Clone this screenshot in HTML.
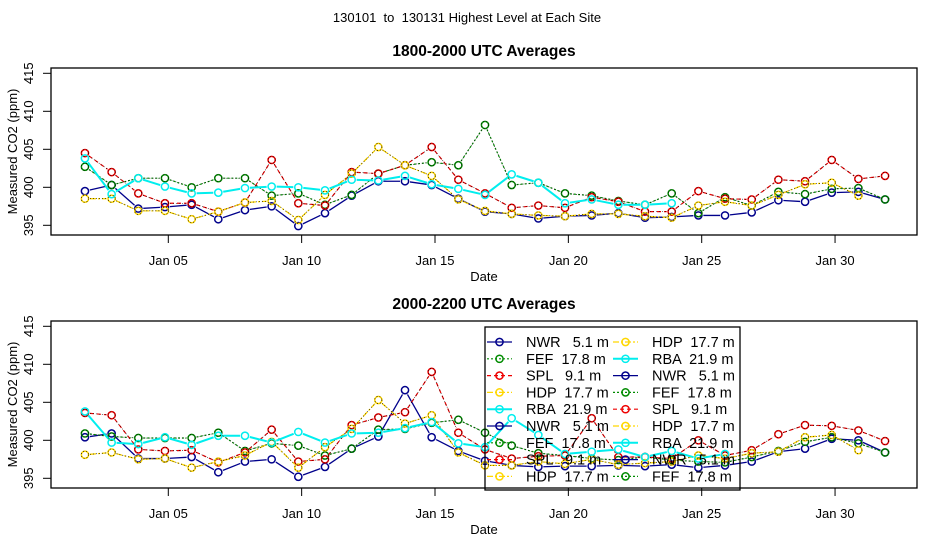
<!DOCTYPE html>
<html><head><meta charset="utf-8"><style>
html,body{margin:0;padding:0;background:#fff;}
svg{display:block;font-family:"Liberation Sans",Arial,sans-serif;}
</style></head><body>
<svg id="chart" width="936" height="540" viewBox="0 0 936 540" xmlns="http://www.w3.org/2000/svg">
<text x="467" y="22" text-anchor="middle" font-size="13" fill="#000" style="white-space:pre">130101  to  130131 Highest Level at Each Site</text>
<g id="p1"></g>
<g id="p2"></g>
<g id="legend"></g>
</svg>
<script>
const days = [2,3,4,5,6,7,8,9,10,11,12,13,14,15,16,17,18,19,20,21,22,23,24,25,26,27,28,29,30,31,32];
const seriesNames = ["NWR","FEF","SPL","HDP","RBA"];
const yTicks = [395,400,405,410,415];
const xTickDays = [5,10,15,20,25,30];
const xTickLabels = ["Jan 05","Jan 10","Jan 15","Jan 20","Jan 25","Jan 30"];
const p1NWR = [399.5,400.3,397.2,397.4,397.7,395.8,397.0,397.5,394.9,396.6,398.9,400.8,400.8,400.3,398.5,396.8,396.5,395.9,396.2,396.3,396.6,396.0,396.1,396.3,396.3,396.7,398.3,398.1,399.3,399.4,398.4];
const p1FEF = [402.7,400.3,401.2,401.2,400.0,401.2,401.2,398.9,399.2,397.7,399.0,401.8,402.9,403.3,402.9,408.2,400.3,400.6,399.2,398.9,398.2,397.7,399.2,396.6,398.7,397.6,399.4,399.1,399.8,399.9,398.4];
const p1SPL = [404.5,402.0,399.2,397.9,397.9,396.8,398.0,403.6,397.9,397.6,402.0,401.8,402.9,405.3,401.0,399.2,397.3,397.6,397.3,398.7,398.1,396.8,396.8,399.5,398.5,398.4,401.0,400.8,403.6,401.1,401.5];
const p1HDP = [398.5,398.5,396.9,396.9,395.8,396.8,398.0,398.2,395.7,399.0,401.8,405.3,402.9,401.5,398.4,396.9,396.5,396.3,396.2,396.5,396.5,396.2,396.0,397.6,398.1,397.6,399.0,400.4,400.6,398.9,null];
const p1RBA = [403.8,399.1,401.2,400.1,399.2,399.3,399.9,400.1,400.0,399.6,401.0,400.9,401.5,400.4,399.8,399.0,401.7,400.6,397.9,398.4,397.7,397.7,397.9,null,null,null,null,null,null,null,null];
const p2NWR = [400.4,400.9,397.6,397.6,397.8,395.8,397.2,397.5,395.2,396.5,398.9,400.5,406.6,400.4,398.6,397.3,396.7,396.5,396.6,396.6,396.7,396.6,396.8,396.4,396.7,397.2,398.5,398.9,400.2,400.0,398.4];
const p2FEF = [400.9,400.5,400.3,400.3,400.3,401.0,398.6,399.6,399.3,398.0,398.9,401.4,401.5,402.3,402.7,401.0,399.3,398.3,398.0,397.6,397.4,397.8,397.4,397.2,397.1,397.8,398.6,399.8,400.4,399.6,398.4];
const p2SPL = [403.6,403.3,398.8,398.6,398.7,397.1,398.4,401.4,397.2,397.5,402.0,403.0,403.7,409.0,401.0,398.8,397.6,397.9,398.0,402.9,397.8,397.8,397.6,400.0,398.0,398.7,400.8,402.0,401.9,401.3,399.9];
const p2HDP = [398.1,398.4,397.5,397.6,396.4,397.2,398.0,399.8,396.4,399.1,401.5,405.3,402.2,403.3,398.4,396.7,396.7,397.2,396.9,397.5,396.8,397.0,397.2,398.0,397.6,398.3,398.5,400.4,400.7,398.7,null];
const p2RBA = [403.8,399.7,399.5,400.4,399.4,400.6,400.6,399.7,401.1,399.7,400.9,401.0,401.6,402.4,399.6,399.1,402.9,400.7,398.2,398.5,398.8,397.8,398.6,397.6,398.2,null,null,null,null,null,null];

const colors = {NWR:"#00008b",FEF:"#008b00",SPL:"#ee0000",HDP:"#ffd700",RBA:"#00eeee"};
const dashes = {NWR:"none",FEF:"2 2",SPL:"4 3",HDP:"6 2 2 2",RBA:"none"};
const widths = {NWR:1.3,FEF:1.2,SPL:1.2,HDP:1.3,RBA:2};
const NS="http://www.w3.org/2000/svg";
function mk(tag,attrs,parent){const e=document.createElementNS(NS,tag);for(const k in attrs)e.setAttribute(k,attrs[k]);parent.appendChild(e);return e;}
const L=51,R=917;
function xScale(d){return 435+(d-0.125-15)*26.67;}
function drawPanel(g,top,title,data){
  const bottom=top+167;
  const base=bottom-9.7;
  const yScale=v=>base-(v-395)*7.6;
  const t=mk('text',{x:484,y:top-12,'text-anchor':'middle','font-size':'15.5','font-weight':'bold'},g);
  t.textContent=title;
  
  
  const box=mk('rect',{x:L,y:top,width:R-L,height:bottom-top,fill:'none',stroke:'#000','stroke-width':1.3},g);
  
  
  yTicks.forEach(v=>{
    const y=yScale(v);
    mk('line',{x1:L-8,x2:L,y1:y,y2:y,stroke:'#000'},g);
    const tx=mk('text',{x:0,y:0,'text-anchor':'middle','font-size':'13',transform:`translate(33,${y}) rotate(-90)`},g);
    tx.textContent=v;
    
    
  });
  const yt=mk('text',{x:0,y:0,'text-anchor':'middle','font-size':'13',transform:`translate(17,${(top+bottom)/2}) rotate(-90)`},g);
  yt.textContent='Measured CO2 (ppm)';
  
  
  xTickDays.forEach((d,i)=>{
    const x=435+(d-15)*26.67;
    mk('line',{x1:x,x2:x,y1:bottom,y2:bottom+8,stroke:'#000'},g);
    const tx=mk('text',{x:x,y:bottom+30,'text-anchor':'middle','font-size':'13'},g);
    tx.textContent=xTickLabels[i];
    
    
  });
  const xt=mk('text',{x:484,y:bottom+46,'text-anchor':'middle','font-size':'13'},g);
  xt.textContent='Date';
  
  
  seriesNames.forEach((s,si)=>{
    const vals=data[si];
    const sg=mk('g',{},g);
    
    
    for(let i=0;i<days.length-1;i++){
      if(vals[i]==null||vals[i+1]==null)continue;
      const x1=xScale(days[i]),y1=yScale(vals[i]),x2=xScale(days[i+1]),y2=yScale(vals[i+1]);
      const dx=x2-x1,dy=y2-y1,len=Math.hypot(dx,dy);
      if(len<11)continue;
      const ux=dx/len,uy=dy/len;
      mk('line',{x1:x1+ux*5,y1:y1+uy*5,x2:x2-ux*5,y2:y2-uy*5,stroke:colors[s],'stroke-width':widths[s],'stroke-dasharray':dashes[s]},sg);
      if(s!=='NWR'&&s!=='RBA')mk('line',{x1:x1+ux*5,y1:y1+uy*5,x2:x2-ux*5,y2:y2-uy*5,stroke:'#000','stroke-width':0.6,'stroke-dasharray':'1 2'},sg);
    }
    days.forEach((d,i)=>{
      if(vals[i]==null)return;
      const c=mk('circle',{cx:xScale(d),cy:yScale(vals[i]),r:3.6,fill:'none',stroke:colors[s],'stroke-width':1.5},sg);
      
      
      if(s!=='NWR'&&s!=='RBA')mk('circle',{cx:xScale(d),cy:yScale(vals[i]),r:3.6,fill:'none',stroke:'#000','stroke-width':0.7,'stroke-dasharray':'1 2'},sg);
    });
  });
}
drawPanel(document.getElementById('p1'),68,'1800-2000 UTC Averages',[p1NWR,p1FEF,p1SPL,p1HDP,p1RBA]);
drawPanel(document.getElementById('p2'),321,'2000-2200 UTC Averages',[p2NWR,p2FEF,p2SPL,p2HDP,p2RBA]);
// legend
const lg=document.getElementById('legend');
const legCol1=["NWR","FEF","SPL","HDP","RBA","NWR","FEF","SPL","HDP"];
const legCol2=["HDP","RBA","NWR","FEF","SPL","HDP","RBA","NWR","FEF"];
const heights={NWR:"5.1 m",FEF:"17.8 m",SPL:"9.1 m",HDP:"17.7 m",RBA:"21.9 m"};
const pad={NWR:"   ",FEF:"  ",SPL:"   ",HDP:"  ",RBA:"  "};
const lbox=mk('rect',{x:485,y:327,width:255,height:163,fill:'none',stroke:'#000','stroke-width':1.3},lg);


[[legCol1,485],[legCol2,611]].forEach(([col,x0])=>{
  col.forEach((s,i)=>{
    const y=342+i*16.8;
    const eg=mk('g',{},lg);
    
    
    mk('line',{x1:x0+2,x2:x0+27,y1:y,y2:y,stroke:colors[s],'stroke-width':widths[s],'stroke-dasharray':dashes[s]},eg);
    mk('circle',{cx:x0+14.5,cy:y,r:3.6,fill:'none',stroke:colors[s],'stroke-width':1.5},eg);
    const t=mk('text',{x:x0+41,y:y+5,'font-size':'14.5',style:'white-space:pre'},eg);
    t.textContent=s+pad[s]+heights[s];
  });
});
</script>
</body></html>
